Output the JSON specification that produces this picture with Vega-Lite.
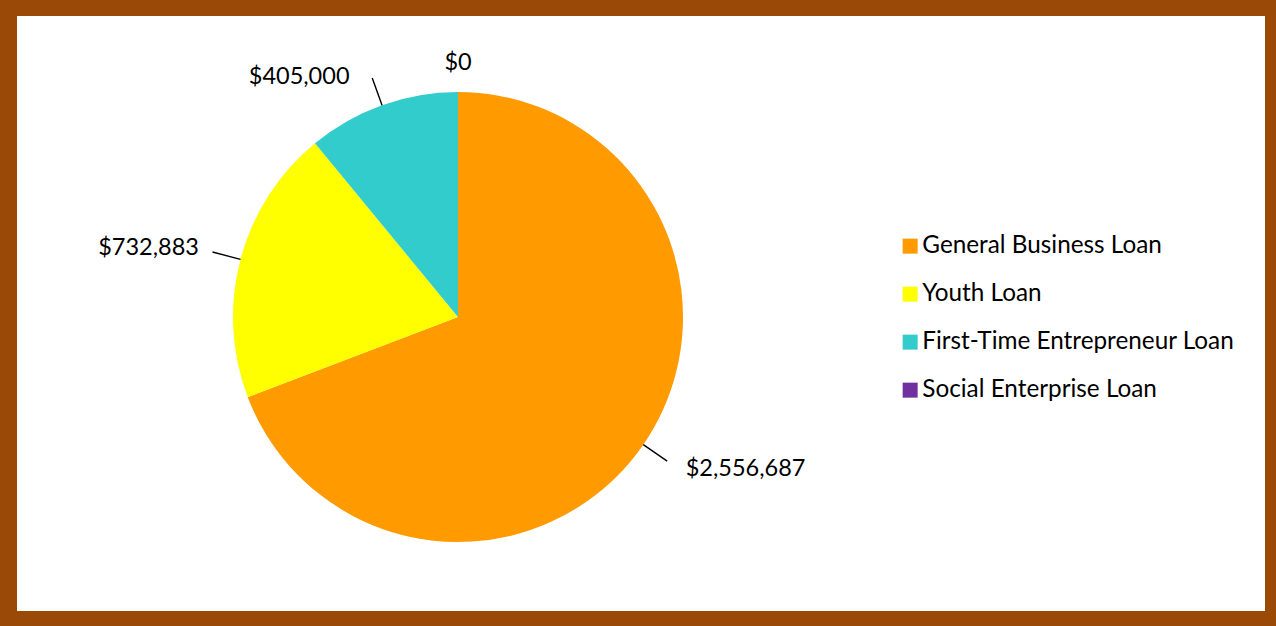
{
  "$schema": "https://vega.github.io/schema/vega-lite/v6.json",
  "autosize": {"type": "fit", "contains": "padding"},
  "width": 1276,
  "height": 626,
  "padding": {"left": 17, "top": 16, "right": 11, "bottom": 15},
  "background": "#9A4A06",
  "view": {"fill": "#FFFFFF", "stroke": null},
  "config": {
    "view": {"fill": "#FFFFFF", "stroke": null},
    "font": "Lato"
  },
  "data": {
    "values": [
      {"loan": "General Business Loan", "value": 2556687, "rank": 1},
      {"loan": "Youth Loan", "value": 732883, "rank": 2},
      {"loan": "First-Time Entrepreneur Loan", "value": 405000, "rank": 3},
      {"loan": "Social Enterprise Loan", "value": 0, "rank": 4}
    ]
  },
  "layer": [
    {
      "mark": {"type": "arc", "outerRadius": 225, "x": 441, "y": 301},
      "encoding": {
        "theta": {"field": "value", "type": "quantitative"},
        "order": {"field": "rank", "type": "quantitative"},
        "color": {
          "field": "loan",
          "type": "nominal",
          "scale": {
            "domain": ["General Business Loan", "Youth Loan", "First-Time Entrepreneur Loan", "Social Enterprise Loan"],
            "range": ["#FF9A00", "#FFFF00", "#33CCCC", "#7030A0"]
          },
          "legend": {
            "title": null,
            "orient": "none",
            "legendX": 881,
            "legendY": 218,
            "symbolType": "square",
            "symbolSize": 225,
            "symbolStrokeWidth": 0,
            "labelFontSize": 24.3,
            "labelFont": "Lato",
            "labelColor": "#000000",
            "labelOffset": 0,
            "rowPadding": 23,
            "padding": 0,
            "labelLimit": 400
          }
        }
      }
    },
    {
      "transform": [
        {"filter": "datum.value > 0"},
        {"stack": "value", "groupby": [], "sort": [{"field": "rank"}], "as": ["v0", "v1"]},
        {"fold": ["v0", "v1"], "as": ["edgeKey", "edge"]},
        {"aggregate": [{"op": "mean", "field": "edge", "as": "mid"}], "groupby": ["loan"]}
      ],
      "mark": {"type": "arc", "innerRadius": 225, "outerRadius": 254, "x": 441, "y": 301, "fill": null, "stroke": "#000000", "strokeWidth": 1.4},
      "encoding": {
        "theta": {"field": "mid", "type": "quantitative", "stack": null},
        "theta2": {"field": "mid"}
      }
    },
    {
      "transform": [
        {"stack": "value", "groupby": [], "sort": [{"field": "rank"}], "as": ["v0", "v1"]},
        {"fold": ["v0", "v1"], "as": ["edgeKey", "edge"]},
        {"aggregate": [{"op": "mean", "field": "edge", "as": "mid"}], "groupby": ["loan", "value"]}
      ],
      "mark": {
        "type": "text",
        "x": 441,
        "y": 301,
        "radius": {"expr": "datum.value === 0 ? 254 : 268"},
        "align": {"expr": "datum.loan === 'General Business Loan' ? 'left' : (datum.value === 0 ? 'center' : 'right')"},
        "dx": {"expr": "datum.loan === 'General Business Loan' ? 7 : (datum.loan === 'First-Time Entrepreneur Loan' ? -18 : 0)"},
        "dy": {"expr": "datum.loan === 'First-Time Entrepreneur Loan' ? 12 : 0"},
        "baseline": "middle",
        "fontSize": 23.5,
        "font": "Lato",
        "color": "#000000"
      },
      "encoding": {
        "theta": {"field": "mid", "type": "quantitative", "stack": null},
        "text": {"field": "value", "type": "quantitative", "format": "$,.0f"}
      }
    }
  ]
}
